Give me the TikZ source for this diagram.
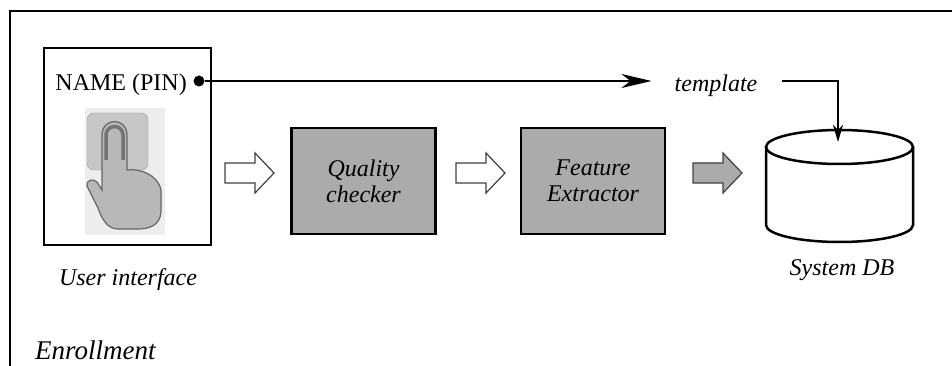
\documentclass[tikz,border=0pt]{standalone}
\usepackage{fontspec}
\setmainfont{Liberation Serif}
\usetikzlibrary{arrows.meta}

\tikzset{
  proc/.style={draw, line width=2.5pt, fill=black!33, minimum width=144pt, minimum height=106pt,
    align=center, font=\fontsize{24}{26}\selectfont\itshape},
  lbl/.style={font=\fontsize{24}{28}\selectfont\itshape, inner sep=0pt},
  blk/.style={draw=black!75, line width=1.2pt},
}

\begin{document}
\begin{tikzpicture}[x=1pt, y=-1pt]
  \useasboundingbox (0,0) rectangle (952,366);
  % frame
  \draw[line width=2.5pt] (10,366) -- (10,11) -- (952,11);

  % user interface
  \node[draw, line width=2.5pt, minimum width=167pt, minimum height=197pt] (ui) at (127.5,146.5) {};
  \node[font=\fontsize{24}{28}\selectfont, anchor=base east, inner sep=0pt] (name) at (187,91) {NAME (PIN)};
  \node[circle, fill, inner sep=0pt, minimum size=11pt] (pin) at (199,81) {};
  % hand
  \fill[black!7] (85,108) rectangle (165,235);
  \filldraw[fill=black!22, draw=black!40, rounded corners=7pt] (87,113) rectangle (148,170);
  \filldraw[fill=black!28, draw=black!60, line width=1.2pt] (102,175) -- (102,134)
    arc[start angle=180, end angle=360, radius=12.5] -- (127,170)
    .. controls (140,168) and (158,175) .. (161,190) -- (161,212)
    .. controls (160,225) and (150,229) .. (138,229) -- (118,229)
    .. controls (108,229) and (102,220) .. (98,208) -- (87,186)
    .. controls (86,180) and (93,178) .. (97,182) -- (102,190) -- cycle;
  \draw[black!55, line width=3.5pt] (106,160) -- (106,135)
    arc[start angle=180, end angle=360, radius=8.5] -- (123,160);
  \node[lbl, anchor=base] (uilbl) at (128,285) {User interface};

  % processing
  \node[proc] (qc) at (363.5,181) {Quality\\checker};
  \node[proc] (fe) at (593,181) {Feature\\Extractor};

  % block arrows
  \draw[blk, fill=white] (225,163) -- ++(30,0) -- ++(0,-10) -- ++(19,20) -- ++(-19,20)
    -- ++(0,-10) -- ++(-30,0) -- cycle;
  \draw[blk, fill=white] (456,163) -- ++(30,0) -- ++(0,-10) -- ++(19,20) -- ++(-19,20)
    -- ++(0,-10) -- ++(-30,0) -- cycle;
  \draw[blk, fill=black!33] (693,163) -- ++(30,0) -- ++(0,-10) -- ++(19,20) -- ++(-19,20)
    -- ++(0,-10) -- ++(-30,0) -- cycle;

  % database
  \draw[line width=2.5pt, fill=white] (766,147) -- (766,225)
    arc[start angle=180, end angle=0, x radius=73.5, y radius=17] -- (913,147);
  \draw[line width=2.5pt] (839.5,147) ellipse[x radius=73.5, y radius=17];
  \coordinate (db) at (838,142);
  \node[lbl, anchor=base] (dblbl) at (842,275) {System DB};

  % template path
  \node[lbl, anchor=base] (tpl) at (716,92) {template};
  \draw[line width=2pt, -{Stealth[length=30pt, width=14pt, inset=9pt]}]
    (pin) -- ([xshift=-23pt]tpl.west |- pin);
  \draw[line width=2pt, -{Stealth[length=17pt, width=10pt, inset=5pt]}]
    ([xshift=24pt]tpl.east |- pin) -| (db);

  \node[font=\fontsize{27}{30}\selectfont\itshape, anchor=base west, inner sep=0pt] (enr) at (35,359) {Enrollment};
\end{tikzpicture}
\end{document}
